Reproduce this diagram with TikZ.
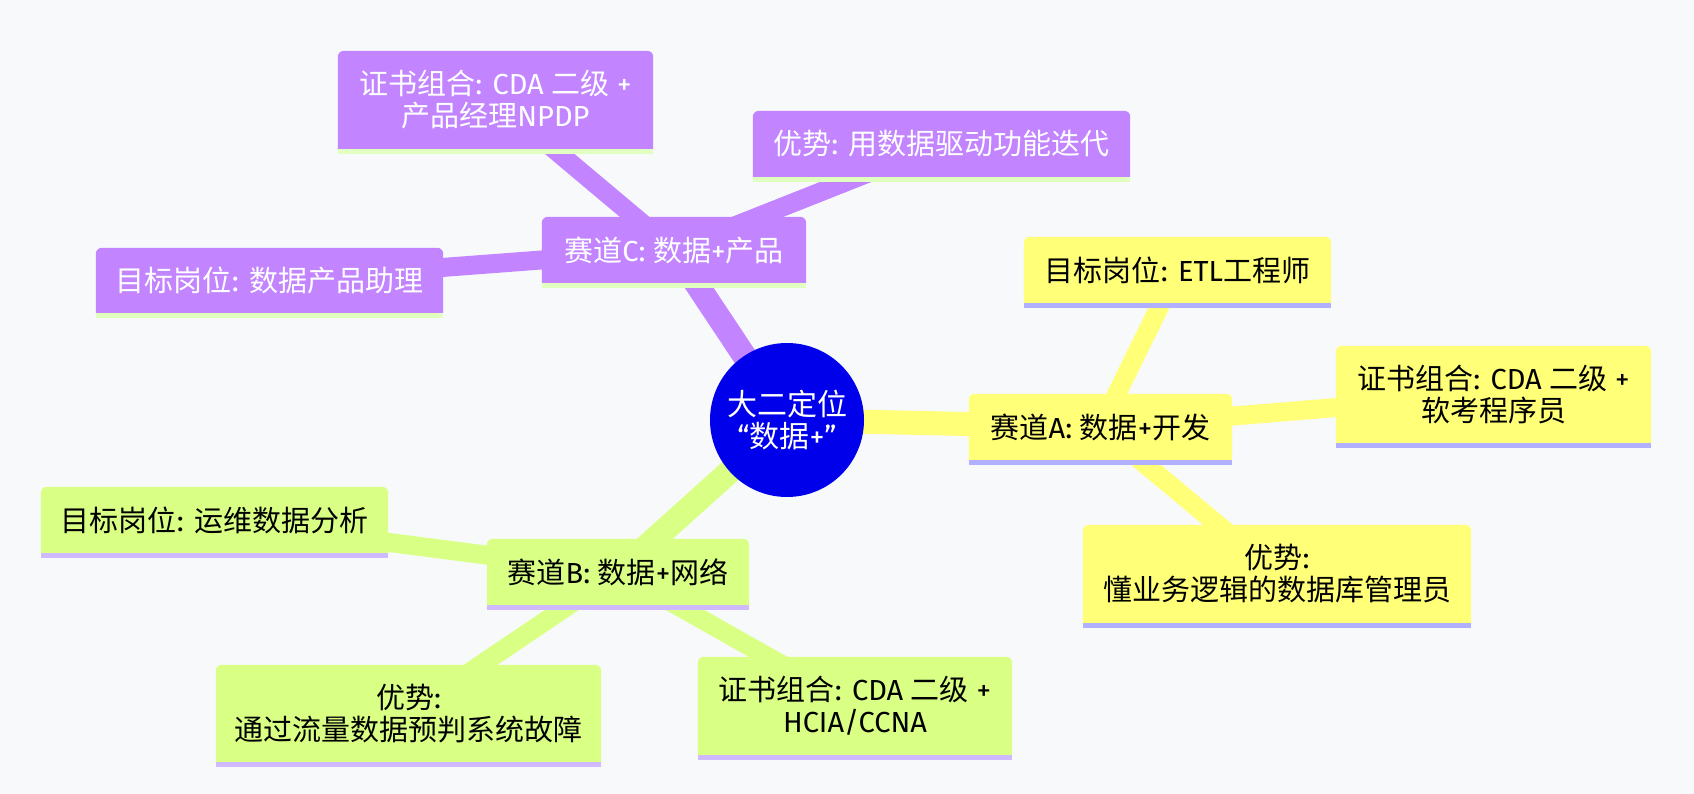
\documentclass[tikz,border=0pt]{standalone}
\usepackage{fontspec}
\setmainfont{Noto Sans CJK SC}
\newfontfamily\lat{Fira Sans}
\pgfdeclarelayer{edgelayer}
\pgfdeclarelayer{boxlayer}
\pgfsetlayers{edgelayer,boxlayer,main}
\definecolor{bgc}{RGB}{248,249,251}
\definecolor{purp}{RGB}{194,133,255}
\definecolor{yel}{RGB}{255,255,120}
\definecolor{grn}{RGB}{217,255,133}
\definecolor{purpS}{RGB}{224,255,192}
\definecolor{yelS}{RGB}{176,176,255}
\definecolor{grnS}{RGB}{208,186,255}
\definecolor{rootc}{RGB}{0,0,235}
\tikzset{
  mm/.style={rectangle, inner sep=0pt, align=center, font=\fontsize{29}{32}\selectfont},
  dark/.style={mm, text=black},
  light/.style={mm, text=white},
  rootnode/.style={circle, fill=rootc, minimum size=154pt, inner sep=0pt, text=white, align=center, font=\fontsize{30}{32}\selectfont},
  trunk/.style={line width=24pt},
  twig/.style={line width=19pt},
}
\begin{document}
\begin{tikzpicture}[x=1pt,y=-1pt]
\useasboundingbox (0,0) rectangle (1694,794);
% root
\node[rootnode] (root) at (787,420) {大二定位\\{\lat “}数据{\lat +”}};
% track A
\node[dark, minimum width=263pt, minimum height=66pt] (A) at (1100.5,427) {赛道{\lat A: }数据{\lat +}开发};
\node[dark, minimum width=307pt, minimum height=66pt] (ETL) at (1177.5,270) {目标岗位{\lat : ETL}工程师};
\node[dark, minimum width=315pt, minimum height=97pt] (certA) at (1493.5,394.5) {证书组合{\lat : CDA }二级{\lat\ +}\\软考程序员};
\node[dark, minimum width=388pt, minimum height=98pt] (advA) at (1277,574) {优势{\lat :}\\懂业务逻辑的数据库管理员};
% track B
\node[dark, minimum width=262pt, minimum height=66pt] (B) at (618,572) {赛道{\lat B: }数据{\lat +}网络};
\node[dark, minimum width=347pt, minimum height=66pt] (tgtB) at (214.5,520) {目标岗位{\lat : }运维数据分析};
\node[dark, minimum width=385pt, minimum height=97pt] (advB) at (408.5,713.5) {优势{\lat :}\\通过流量数据预判系统故障};
\node[dark, minimum width=314pt, minimum height=98pt] (certB) at (855,706) {证书组合{\lat : CDA }二级{\lat\ +}\\{\lat HCIA/CCNA}};
% track C
\node[light, minimum width=264pt, minimum height=66pt] (C) at (674,250) {赛道{\lat C: }数据{\lat +}产品};
\node[light, minimum width=315pt, minimum height=98pt] (certC) at (495.5,100) {证书组合{\lat : CDA }二级{\lat\ +}\\产品经理{\lat NPDP}};
\node[light, minimum width=377pt, minimum height=66pt] (advC) at (941.5,144) {优势{\lat : }用数据驱动功能迭代};
\node[light, minimum width=347pt, minimum height=65pt] (tgtC) at (269.5,280.5) {目标岗位{\lat : }数据产品助理};
% boxes
\begin{pgfonlayer}{boxlayer}
\foreach \n/\c/\s in {A/yel/yelS, ETL/yel/yelS, certA/yel/yelS, advA/yel/yelS,
  B/grn/grnS, tgtB/grn/grnS, advB/grn/grnS, certB/grn/grnS,
  C/purp/purpS, certC/purp/purpS, advC/purp/purpS, tgtC/purp/purpS}{
  \fill[\c] (\n.south west) [rounded corners=6pt] -- (\n.north west) -- (\n.north east) [sharp corners] -- (\n.south east) -- cycle;
  \fill[\s] (\n.south west) rectangle ([yshift=-5pt]\n.south east);
}
\end{pgfonlayer}
% edges
\begin{pgfonlayer}{edgelayer}
\fill[bgc] (0,0) rectangle (1694,794);
\draw[trunk, yel] (root.center) -- (A.center);
\draw[trunk, grn] (root.center) -- (B.center);
\draw[trunk, purp] (root.center) -- (C.center);
\draw[twig, yel] (A.center) -- (ETL.center);
\draw[twig, yel] (A.center) -- (certA.center);
\draw[twig, yel] (A.center) -- (advA.center);
\draw[twig, grn] (B.center) -- (tgtB.center);
\draw[twig, grn] (B.center) -- (advB.center);
\draw[twig, grn] (B.center) -- (certB.center);
\draw[twig, purp] (C.center) -- (certC.center);
\draw[twig, purp] (C.center) -- (advC.center);
\draw[twig, purp] (C.center) -- (tgtC.center);
\end{pgfonlayer}
\end{tikzpicture}
\end{document}
